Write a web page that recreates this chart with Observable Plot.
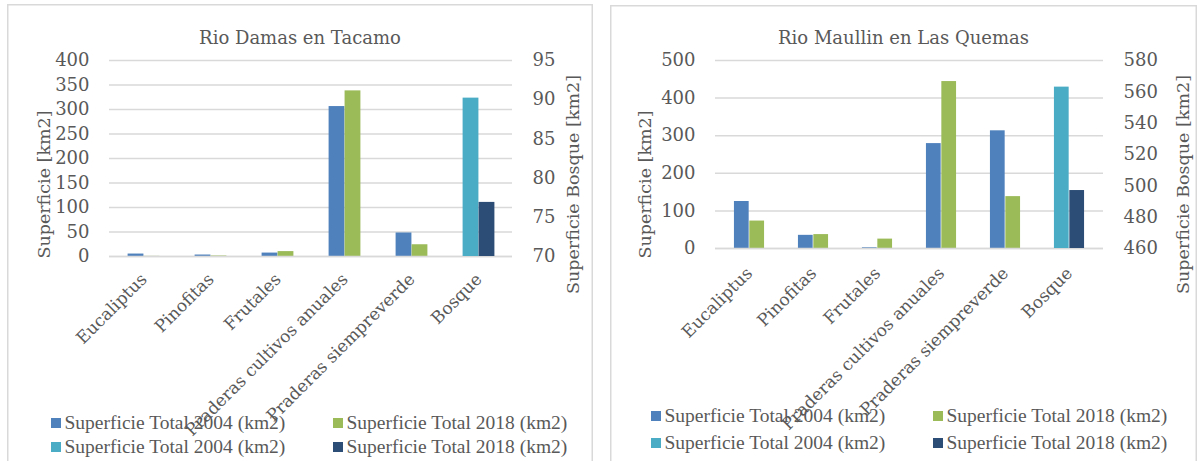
<!DOCTYPE html>
<html>
<head>
<meta charset="utf-8">
<script src="https://cdn.jsdelivr.net/npm/d3@7"></script>
<script src="https://cdn.jsdelivr.net/npm/@observablehq/plot@0.6"></script>
<style>
  body { margin: 0; background: #fff; width: 1200px; height: 461px; overflow: hidden; position: relative; color: #595959; font-family: "DejaVu Serif", serif; }
  .panel { position: absolute; background: #fff; box-shadow: inset 0 0 0 1.5px #d9d9d9; }
  .panel svg { position: absolute; left: 0; top: 0; overflow: visible; }
  .title { position: absolute; left: 0; right: 0; text-align: center; font-size: 18px; line-height: 20px; }
  .item { position: absolute; display: flex; align-items: center; white-space: nowrap; font-family: "Liberation Serif", serif; font-size: 19.5px; line-height: 22px; }
  .sw { width: 10px; height: 10px; margin-right: 3.5px; flex: none; }
</style>
</head>
<body>
<div id="damas" class="panel" style="left:7px;top:4px;width:586px;height:470px"></div>
<div id="maullin" class="panel" style="left:610px;top:5px;width:587px;height:470px"></div>
<script>
// Land-cover categories on the x axis (Bosque is read on the secondary axis)
const categories = ["Eucaliptus", "Pinofitas", "Frutales", "Praderas cultivos anuales", "Praderas siempreverde", "Bosque"];
const landCover = categories.slice(0, 5);

// Rio Damas en Tacamo, km2
const damas2004 = [5, 3, 7, 306, 48];
const damas2018 = [0.3, 1, 10, 338, 24];
const damasBosque2004 = 90.2;
const damasBosque2018 = 76.9;

// Rio Maullin en Las Quemas, km2
const maullin2004 = [125, 35, 2, 279, 313];
const maullin2018 = [73, 37, 25, 444, 138];
const maullinBosque2004 = 563;
const maullinBosque2018 = 497;

// Axis ticks
const damasLeftTicks = [0, 50, 100, 150, 200, 250, 300, 350, 400];
const damasRightTicks = [70, 75, 80, 85, 90, 95];
const maullinLeftTicks = [0, 100, 200, 300, 400, 500];
const maullinRightTicks = [460, 480, 500, 520, 540, 560, 580];

const legendLabels = ["Superficie Total 2004 (km2)", "Superficie Total 2018 (km2)", "Superficie Total 2004 (km2)", "Superficie Total 2018 (km2)"];
const legendColors = ["#4f81bd", "#9bbb59", "#4bacc6", "#2c4d75"];

const leftAxisTitle = "Superficie [km2]";
const rightAxisTitle = "Superficie Bosque [km2]";

function drawPanel(cfg) {
  const el = document.getElementById(cfg.id);
  const rows = landCover.map((c, i) => ({category: c, a: cfg.v2004[i], b: cfg.v2018[i]}));
  const bosque = [{category: "Bosque", a: cfg.b2004, b: cfg.b2018}];
  const bw = (cfg.w - cfg.ml - cfg.mr) / categories.length;
  const barW = bw * 0.238;
  const common = {
    width: cfg.w, height: cfg.h,
    marginLeft: cfg.ml, marginRight: cfg.mr, marginTop: cfg.mt, marginBottom: cfg.mb,
    style: {fontFamily: "DejaVu Serif", fontSize: "17px", color: "#595959", background: "transparent", overflow: "visible"}
  };
  const grid = {stroke: "#d9d9d9", strokeOpacity: 1, strokeWidth: 1.5};

  // primary axis: the five land-cover classes
  const primary = Plot.plot({
    ...common,
    x: {domain: categories, padding: 0},
    y: {domain: [cfg.leftTicks[0], cfg.leftTicks[cfg.leftTicks.length - 1]]},
    marks: [
      Plot.gridY(cfg.leftTicks, grid),
      Plot.barY(rows, {x: "category", y: "a", fill: legendColors[0], insetLeft: bw / 2 - barW, insetRight: bw / 2}),
      Plot.barY(rows, {x: "category", y: "b", fill: legendColors[1], insetLeft: bw / 2, insetRight: bw / 2 - barW}),
      Plot.ruleY([cfg.leftTicks[0]], grid),
      Plot.axisX({tickSize: 0, tickRotate: -45, tickPadding: cfg.xpad, fontSize: 17, label: null}),
      Plot.axisY(cfg.leftTicks, {anchor: "left", tickSize: 0, tickPadding: 20, fontSize: 18, label: null}),
      Plot.text([leftAxisTitle], {frameAnchor: "left", textAnchor: "middle", rotate: -90, dx: cfg.ldx, dy: cfg.tdy, fontSize: 17.5, fill: "#595959"})
    ]
  });

  // secondary axis: Bosque
  const secondary = Plot.plot({
    ...common,
    x: {domain: categories, padding: 0, axis: null},
    y: {domain: [cfg.rightTicks[0], cfg.rightTicks[cfg.rightTicks.length - 1]]},
    marks: [
      Plot.barY(bosque, {x: "category", y: "a", fill: legendColors[2], insetLeft: bw / 2 - barW, insetRight: bw / 2, clip: true}),
      Plot.barY(bosque, {x: "category", y: "b", fill: legendColors[3], insetLeft: bw / 2, insetRight: bw / 2 - barW, clip: true}),
      Plot.axisY(cfg.rightTicks, {anchor: "right", tickSize: 0, tickPadding: 20, fontSize: 18, label: null}),
      Plot.text([rightAxisTitle], {frameAnchor: "right", textAnchor: "middle", rotate: -90, dx: cfg.rdx, dy: cfg.tdy, fontSize: 17.5, fill: "#595959"})
    ]
  });

  el.append(primary, secondary);

  const t = document.createElement("div");
  t.className = "title";
  t.style.top = cfg.titleTop + "px";
  t.textContent = cfg.title;
  el.append(t);

  legendLabels.forEach((label, i) => {
    const it = document.createElement("div");
    it.className = "item";
    it.style.left = (cfg.legX + (i % 2) * 282) + "px";
    it.style.top = (cfg.legY[Math.floor(i / 2)] - 11) + "px";
    const sw = document.createElement("span");
    sw.className = "sw";
    sw.style.background = legendColors[i];
    const tx = document.createElement("span");
    tx.textContent = label;
    it.append(sw, tx);
    el.append(it);
  });
}

drawPanel({
  id: "damas", title: "Rio Damas en Tacamo", titleTop: 24,
  w: 586, h: 420, ml: 102, mr: 81, mt: 56, mb: 168, xpad: 20,
  leftTicks: damasLeftTicks, rightTicks: damasRightTicks,
  v2004: damas2004, v2018: damas2018, b2004: damasBosque2004, b2018: damasBosque2018,
  ldx: -65, rdx: 61, tdy: 26,
  legX: 44, legY: [419, 443]
});

drawPanel({
  id: "maullin", title: "Rio Maullin en Las Quemas", titleTop: 23,
  w: 587, h: 420, ml: 105, mr: 94, mt: 55, mb: 177, xpad: 22,
  leftTicks: maullinLeftTicks, rightTicks: maullinRightTicks,
  v2004: maullin2004, v2018: maullin2018, b2004: maullinBosque2004, b2018: maullinBosque2018,
  ldx: -70, rdx: 80, tdy: 30,
  legX: 41, legY: [411, 438]
});
</script>
</body>
</html>
